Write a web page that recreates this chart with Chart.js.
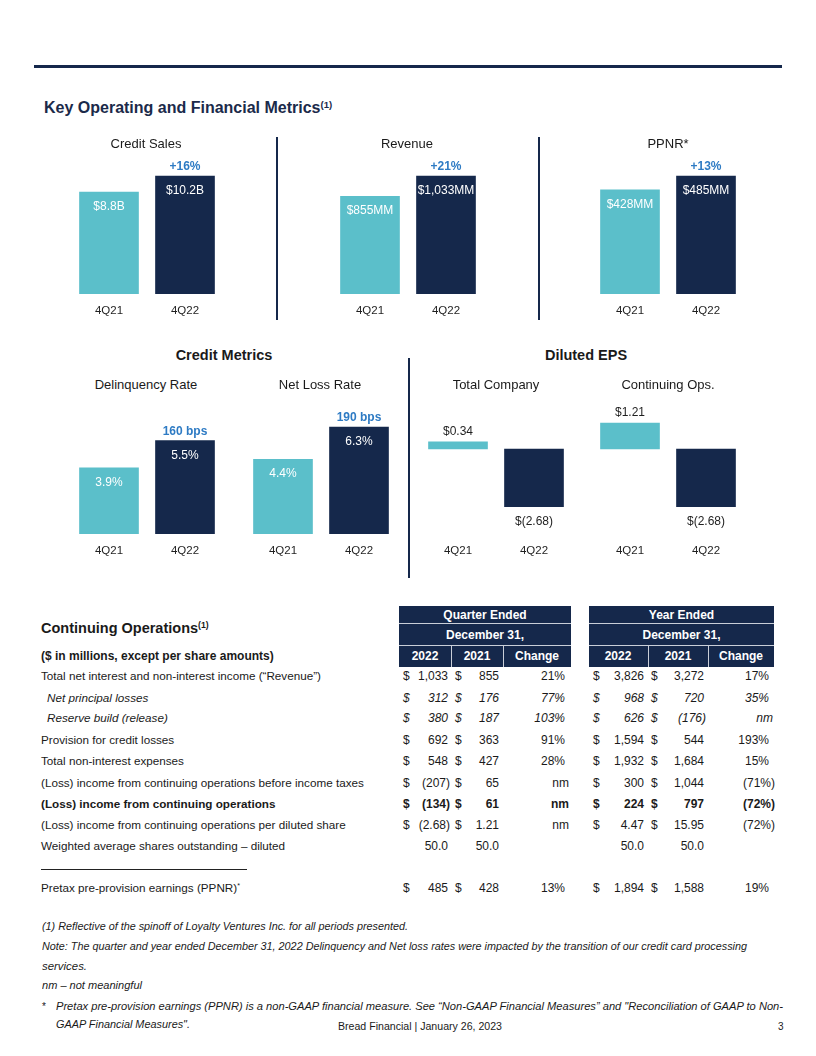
<!DOCTYPE html>
<html>
<head>
<meta charset="utf-8">
<script src="https://cdn.jsdelivr.net/npm/chart.js@4"></script>
<style>
  body { margin: 0; width: 816px; height: 1056px; position: relative; background: #fff;
         font-family: "Liberation Sans", Arial, sans-serif; color: #1a1a1a; overflow: hidden; }
  .t { position: absolute; white-space: nowrap; line-height: 16px; height: 16px; }
  .c { position: absolute; }
  .rule { position: absolute; background: #15284b; }
  .hdr { position: absolute; background: #15284b; }
  .sep { position: absolute; background: #c9ced8; }
  sup { font-size: 60%; line-height: 0; vertical-align: 0.55em; }
</style>
</head>
<body>
<div class="rule" style="left:34px;top:65px;width:748px;height:3px"></div>
<div class="rule" style="left:276px;top:137px;width:1.5px;height:183px"></div>
<div class="rule" style="left:538px;top:137px;width:1.5px;height:183px"></div>
<div class="rule" style="left:408px;top:358px;width:1.5px;height:220px"></div>

<div class="c" style="left:70.5px;top:150px;width:152px;height:168px"><canvas id="cSales"></canvas></div>
<div class="c" style="left:331.5px;top:150px;width:152px;height:168px"><canvas id="cRevenue"></canvas></div>
<div class="c" style="left:592px;top:150px;width:152px;height:168px"><canvas id="cPpnr"></canvas></div>
<div class="c" style="left:70.5px;top:400px;width:152px;height:158px"><canvas id="cDelinq"></canvas></div>
<div class="c" style="left:244.5px;top:400px;width:152px;height:158px"><canvas id="cLoss"></canvas></div>
<div class="c" style="left:419.5px;top:390px;width:152px;height:168px"><canvas id="cEpsTotal"></canvas></div>
<div class="c" style="left:592px;top:390px;width:152px;height:168px"><canvas id="cEpsCont"></canvas></div>

<script>
// chart data
const periods = ["4Q21", "4Q22"];
const creditSales = [8.8, 10.2];      // $B
const revenue = [855, 1033];          // $MM
const ppnr = [428, 485];              // $MM
const topChanges = ["+16%", "+21%", "+13%"];
const delinquencyRate = [3.9, 5.5];   // %
const netLossRate = [4.4, 6.3];       // %
const creditChanges = ["160 bps", "190 bps"];
const epsTotal = [0.34, -2.68];
const epsContinuing = [1.21, -2.68];

// table data
const rowLabels = [
  "Total net interest and non-interest income (\u201cRevenue\u201d)",
  "Net principal losses",
  "Reserve build (release)",
  "Provision for credit losses",
  "Total non-interest expenses",
  "(Loss) income from continuing operations before income taxes",
  "(Loss) income from continuing operations",
  "(Loss) income from continuing operations per diluted share",
  "Weighted average shares outstanding \u2013 diluted",
  "Pretax pre-provision earnings (PPNR)<sup>*</sup>"
];
const qtr2022 = ["1,033", "312", "380", "692", "548", "(207)", "(134)", "(2.68)", "50.0", "485"];
const qtr2021 = ["855", "176", "187", "363", "427", "65", "61", "1.21", "50.0", "428"];
const qtrChange = ["21%", "77%", "103%", "91%", "28%", "nm", "nm", "nm", "", "13%"];
const yr2022 = ["3,826", "968", "626", "1,594", "1,932", "300", "224", "4.47", "50.0", "1,894"];
const yr2021 = ["3,272", "720", "(176)", "544", "1,684", "1,044", "797", "15.95", "50.0", "1,588"];
const yrChange = ["17%", "35%", "nm", "193%", "15%", "(71%)", "(72%)", "(72%)", "", "19%"];

const NAVY = "#15284b", TEAL = "#5bbfca", BLUE = "#2e7bc4", INK = "#1f1f1f";
const FONT = "'Liberation Sans', Arial, sans-serif";
Chart.defaults.font.family = FONT;

const barLabels = {
  id: "barLabels",
  afterDatasetsDraw(chart, args, o) {
    const ctx = chart.ctx;
    const bars = chart.getDatasetMeta(0).data;
    const vals = chart.data.datasets[0].data;
    ctx.save();
    ctx.textAlign = "center";
    ctx.textBaseline = "alphabetic";
    ctx.font = "12px " + FONT;
    bars.forEach((bar, i) => {
      const v = vals[i];
      if (o.inside) {
        ctx.fillStyle = "#ffffff";
        ctx.fillText(o.fmt(v), bar.x, bar.y + 18);
      } else if (v >= 0) {
        ctx.fillStyle = INK;
        ctx.fillText(o.fmt(v), bar.x, bar.y - 7);
      } else {
        ctx.fillStyle = INK;
        ctx.fillText(o.fmt(v), bar.x, bar.y + 18);
      }
    });
    if (o.change) {
      const last = bars[bars.length - 1];
      ctx.font = "bold 12px " + FONT;
      ctx.fillStyle = BLUE;
      ctx.fillText(o.change, last.x, last.y - 6);
    }
    ctx.restore();
  }
};

function makeChart(id, values, yMin, yMax, labelOpts) {
  new Chart(document.getElementById(id), {
    type: "bar",
    data: {
      labels: periods,
      datasets: [{
        data: values,
        backgroundColor: [TEAL, NAVY],
        borderWidth: 0,
        barThickness: 59
      }]
    },
    options: {
      responsive: true,
      maintainAspectRatio: false,
      animation: false,
      layout: { padding: { top: 10, left: 0, right: 0, bottom: 0 } },
      plugins: { legend: { display: false }, tooltip: { enabled: false }, barLabels: labelOpts },
      scales: {
        x: {
          grid: { display: false, drawTicks: false },
          border: { display: false },
          ticks: { color: INK, font: { size: 11.5 }, padding: 10 },
          afterFit: s => { s.height = 24; }
        },
        y: { display: false, min: yMin, max: yMax }
      }
    },
    plugins: [barLabels]
  });
}

// top row: max bar uses 118px of a 134px plot
const topMax = vals => Math.max(...vals) * 134 / 118;
makeChart("cSales", creditSales, 0, topMax(creditSales),
  { inside: true, fmt: v => "$" + v.toFixed(1) + "B", change: topChanges[0] });
makeChart("cRevenue", revenue, 0, topMax(revenue),
  { inside: true, fmt: v => "$" + v.toLocaleString("en-US") + "MM", change: topChanges[1] });
makeChart("cPpnr", ppnr, 0, topMax(ppnr),
  { inside: true, fmt: v => "$" + v.toLocaleString("en-US") + "MM", change: topChanges[2] });

makeChart("cDelinq", delinquencyRate, 0, 7.3,
  { inside: true, fmt: v => v.toFixed(1) + "%", change: creditChanges[0] });
makeChart("cLoss", netLossRate, 0, 7.3,
  { inside: true, fmt: v => v.toFixed(1) + "%", change: creditChanges[1] });

const epsFmt = v => v < 0 ? "$(" + Math.abs(v).toFixed(2) + ")" : "$" + v.toFixed(2);
makeChart("cEpsTotal", epsTotal, -3.95, 2.28, { inside: false, fmt: epsFmt });
makeChart("cEpsCont", epsContinuing, -3.95, 2.28, { inside: false, fmt: epsFmt });

// ---- text helpers
function put(html, x, y, css, align) {
  const d = document.createElement("div");
  d.className = "t";
  d.innerHTML = html;
  d.style.top = (y - 8) + "px";
  if (align === "right") d.style.right = (816 - x) + "px";
  else if (align === "center") { d.style.left = (x - 200) + "px"; d.style.width = "400px"; d.style.textAlign = "center"; }
  else d.style.left = x + "px";
  if (css) d.style.cssText += css;
  document.body.appendChild(d);
  return d;
}
function fit(el, w) {
  const r = el.getBoundingClientRect().width;
  el.style.transformOrigin = "left center";
  el.style.transform = "scaleX(" + (w / r) + ")";
}

put("Key Operating and Financial Metrics<sup>(1)</sup>", 44, 108, "font-size:16px;font-weight:bold;color:#1b2a4a");
put("Credit Sales", 146, 144, "font-size:13px", "center");
put("Revenue", 407, 144, "font-size:13px", "center");
put("PPNR*", 668, 144, "font-size:13px", "center");
put("Credit Metrics", 224, 355, "font-size:14.5px;font-weight:bold", "center");
put("Diluted EPS", 586, 355, "font-size:14.5px;font-weight:bold", "center");
put("Delinquency Rate", 146, 385, "font-size:13px", "center");
put("Net Loss Rate", 320, 385, "font-size:13px", "center");
put("Total Company", 496, 385, "font-size:13px", "center");
put("Continuing Ops.", 668, 385, "font-size:13px", "center");

// ---- table headers
const hs = "font-size:12px;font-weight:bold;color:#fff";
function header(x, w, title) {
  const b = document.createElement("div");
  b.className = "hdr";
  b.style.cssText = `left:${x}px;top:606px;width:${w}px;height:61px`;
  document.body.appendChild(b);
  [623, 645].forEach(y => {
    const s = document.createElement("div");
    s.className = "sep";
    s.style.cssText = `left:${x}px;top:${y}px;width:${w}px;height:1px`;
    document.body.appendChild(s);
  });
  put(title, x + w / 2, 614.5, hs, "center");
  put("December 31,", x + w / 2, 634.5, hs, "center");
}
function vsep(x) {
  const s = document.createElement("div");
  s.className = "sep";
  s.style.cssText = `left:${x}px;top:646px;width:1px;height:21px`;
  document.body.appendChild(s);
}
header(399, 172, "Quarter Ended");
header(589, 185, "Year Ended");
vsep(451); vsep(503); vsep(648); vsep(708);
put("2022", 425, 656, hs, "center");
put("2021", 477, 656, hs, "center");
put("Change", 537, 656, hs, "center");
put("2022", 618, 656, hs, "center");
put("2021", 678, 656, hs, "center");
put("Change", 741, 656, hs, "center");

put("Continuing Operations<sup>(1)</sup>", 41, 628, "font-size:14.5px;font-weight:bold");
put("($ in millions, except per share amounts)", 41, 656, "font-size:12px;font-weight:bold");

// ---- table rows
const rowY = [676, 698, 718, 740, 761, 783, 804, 825, 846, 888];
const italicRows = [1, 2], boldRow = 6, noDollarRow = 8;
const numCols = [
  { vals: qtr2022, d: 403, r: 448 },
  { vals: qtr2021, d: 455, r: 499 },
  { vals: qtrChange, r: 565 },
  { vals: yr2022, d: 593, r: 644 },
  { vals: yr2021, d: 651, r: 704 },
  { vals: yrChange, r: 769 }
];
rowLabels.forEach((lab, i) => {
  let css = "font-size:12px;";
  if (italicRows.includes(i)) css += "font-style:italic;";
  if (i === boldRow) css += "font-weight:bold;";
  put(lab, italicRows.includes(i) ? 47 : 41, rowY[i], css + "font-size:11.7px;");
  numCols.forEach(col => {
    const v = col.vals[i];
    if (!v) return;
    let r = col.r;
    if (v.endsWith(")")) r += col.d ? 2 : 6;
    else if (v === "nm") r += 4;
    put(v, r, rowY[i], css, "right");
    if (col.d && i !== noDollarRow) put("$", col.d, rowY[i], css);
  });
});
const hr = document.createElement("div");
hr.className = "rule";
hr.style.cssText = "left:41px;top:869px;width:206px;height:1px;background:#222";
document.body.appendChild(hr);

// ---- footnotes
const fn = "font-size:10px;font-style:italic";
fit(put("(1) Reflective of the spinoff of Loyalty Ventures Inc. for all periods presented.", 42, 927, fn), 366);
fit(put("Note: The quarter and year ended December 31, 2022 Delinquency and Net loss rates were impacted by the transition of our credit card processing", 42, 947, fn), 705);
fit(put("services.", 42, 967, fn), 45);
fit(put("nm \u2013 not meaningful", 42, 986, fn), 100);
put("*", 42, 1007, "font-size:10px");
fit(put("Pretax pre-provision earnings (PPNR) is a non-GAAP financial measure. See \u201cNon-GAAP Financial Measures\u201d and \"Reconciliation of GAAP to Non-", 56, 1007, fn), 727);
fit(put("GAAP Financial Measures\".", 56, 1025, fn), 134);
fit(put("Bread Financial | January 26, 2023", 338, 1027, "font-size:10px"), 164);
put("3", 778, 1027, "font-size:10px");
</script>
</body>
</html>
